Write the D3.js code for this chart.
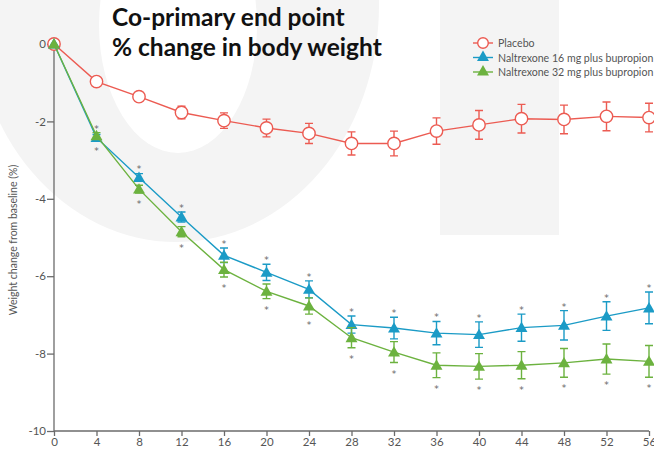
<!DOCTYPE html>
<html><head><meta charset="utf-8">
<script src="https://cdn.jsdelivr.net/npm/d3@7"></script>
<style>body{margin:0;background:#fff}svg{display:block}</style>
</head><body>
<svg id="c" width="654" height="451"></svg>
<script>
const weeks = [0,4,8,12,16,20,24,28,32,36,40,44,48,52,56];
const placebo    = [0,-0.97,-1.36,-1.77,-1.98,-2.17,-2.31,-2.57,-2.57,-2.25,-2.09,-1.93,-1.95,-1.87,-1.90];
const placeboErr = [0,0.06,0.1,0.16,0.2,0.23,0.26,0.3,0.32,0.34,0.37,0.37,0.37,0.37,0.37];
const nb16       = [0,-2.42,-3.45,-4.47,-5.46,-5.90,-6.34,-7.25,-7.34,-7.47,-7.51,-7.33,-7.27,-7.03,-6.82];
const nb16Err    = [0,0.08,0.1,0.13,0.19,0.21,0.22,0.22,0.28,0.3,0.33,0.35,0.38,0.37,0.41];
const nb32       = [0,-2.37,-3.75,-4.85,-5.83,-6.39,-6.77,-7.59,-7.96,-8.30,-8.33,-8.30,-8.24,-8.14,-8.20];
const nb32Err    = [0,0.08,0.1,0.13,0.19,0.19,0.21,0.26,0.27,0.32,0.33,0.35,0.37,0.39,0.41];
const xTicks = weeks;
const yTicks = [0,-2,-4,-6,-8,-10];
const seriesNames = ["Placebo","Naltrexone 16 mg plus bupropion","Naltrexone 32 mg plus bupropion"];
const titleLines = ["Co-primary end point","% change in body weight"];
const yLabel = "Weight change from baseline (%)";

const RED="#ec5b52", BLUE="#1b9bc6", GREEN="#6cb23f", AX="#6b6b6b", TXT="#555";
const svg = d3.select("#c");

// watermark background
const bg = svg.append("g");
bg.append("ellipse").attr("cx",176).attr("cy",5).attr("rx",203).attr("ry",237).attr("fill","#f4f4f4");
bg.append("ellipse").attr("cx",178).attr("cy",25).attr("rx",79).attr("ry",128).attr("fill","#fff");
bg.append("rect").attr("x",440).attr("y",0).attr("width",119).attr("height",235).attr("fill","#f4f4f4");

const x = d3.scaleLinear().domain([0,56]).range([54,649]);
const y = d3.scaleLinear().domain([-10,0]).range([431,44]);

// axes
const gx = svg.append("g").attr("transform",`translate(0,${y(-10)})`)
  .call(d3.axisBottom(x).tickValues(xTicks).tickSize(5).tickPadding(2).tickFormat(d3.format("d")));
const gy = svg.append("g").attr("transform",`translate(${x(0)},0)`)
  .call(d3.axisLeft(y).tickValues(yTicks).tickSize(7).tickPadding(1).tickFormat(d=>d===0?"0":"-"+Math.abs(d)));
[gx,gy].forEach(g=>{
  g.selectAll("path,line").attr("stroke",AX).attr("stroke-width",1.3);
  g.selectAll("text").attr("fill",TXT).attr("font-family","Lato, 'Open Sans', sans-serif").attr("font-size",11.5);
});
gx.select(".domain").attr("d",`M${x(0)},0H${x(56)}`);
gy.select(".domain").attr("d",`M0,${y(0)}V${y(-10)}`);

svg.append("text").attr("transform",`translate(17,240) rotate(-90)`).attr("text-anchor","middle")
  .attr("fill",TXT).attr("font-family","Lato, sans-serif").attr("font-size",10.5).text(yLabel);

// title
titleLines.forEach((t,i)=>svg.append("text").attr("x",112).attr("y",26+i*30)
  .attr("font-family","Lato, 'Open Sans', sans-serif").attr("font-weight","bold").attr("font-size",24.5)
  .attr("fill","#111").text(t));

const series = [
  {v:placebo,e:placeboErr,c:RED,m:"circle"},
  {v:nb16,e:nb16Err,c:BLUE,m:"tri"},
  {v:nb32,e:nb32Err,c:GREEN,m:"tri"}
];
const line = d3.line().x((d,i)=>x(weeks[i])).y(d=>y(d));
const tri = d3.symbol().type(d3.symbolTriangle).size(62);

series.forEach(s=>{
  const g = svg.append("g");
  g.append("path").attr("d",line(s.v)).attr("fill","none").attr("stroke",s.c).attr("stroke-width",1.4);
  s.v.forEach((v,i)=>{
    if(s.e[i]<=0) return;
    const cx=x(weeks[i]), y1=y(v+s.e[i]), y2=y(v-s.e[i]);
    g.append("path").attr("d",`M${cx},${y1}V${y2}M${cx-4},${y1}H${cx+4}M${cx-4},${y2}H${cx+4}`)
      .attr("stroke",s.c).attr("stroke-width",1.4).attr("fill","none");
  });
  s.v.forEach((v,i)=>{
    const cx=x(weeks[i]), cy=y(v);
    if(s.m==="circle") g.append("circle").attr("cx",cx).attr("cy",cy).attr("r",6.2)
      .attr("fill","#fff").attr("stroke",s.c).attr("stroke-width",1.4);
    else g.append("path").attr("d",tri).attr("transform",`translate(${cx},${cy+1})`).attr("fill",s.c);
  });
});

// significance asterisks
const ast = svg.append("g").attr("fill","#666").attr("font-family","'DejaVu Sans', sans-serif").attr("font-size",9).attr("text-anchor","middle");
weeks.forEach((w,i)=>{
  if(i===0) return;
  const up = Math.min(y(nb16[i])-12, y(nb16[i]+nb16Err[i])-7);
  const dn = Math.max(y(nb32[i])+12, y(nb32[i]-nb32Err[i])+8);
  ast.append("text").attr("x",x(w)).attr("y",up+6).text("*");
  ast.append("text").attr("x",x(w)).attr("y",dn+6).text("*");
});

// legend
const lg = svg.append("g").attr("transform","translate(473,43)");
series.forEach((s,i)=>{
  const r = lg.append("g").attr("transform",`translate(0,${i*14.5})`);
  r.append("line").attr("x1",0).attr("x2",20).attr("stroke",s.c).attr("stroke-width",1.4);
  if(s.m==="circle") r.append("circle").attr("cx",10).attr("r",5.3).attr("fill","#fff").attr("stroke",s.c).attr("stroke-width",1.4);
  else r.append("path").attr("d",tri).attr("transform","translate(10,0)").attr("fill",s.c);
  r.append("text").attr("x",25).attr("y",4).attr("fill",TXT).attr("font-family","Lato, sans-serif").attr("font-size",10.6).text(seriesNames[i]);
});
</script>
</body></html>
